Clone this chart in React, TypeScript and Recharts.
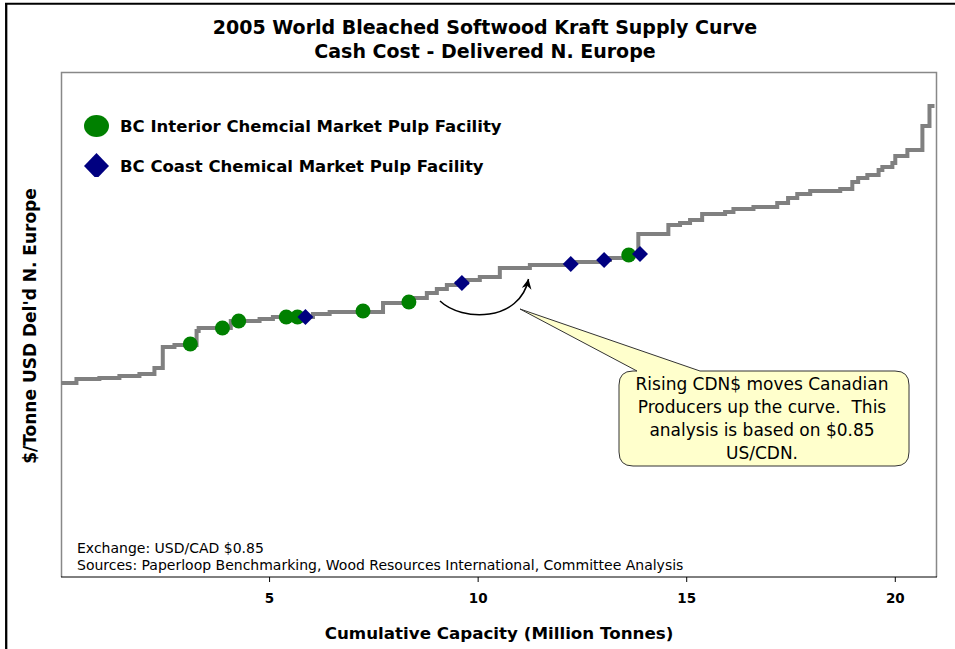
import {
  ComposedChart,
  Legend,
  Line,
  Scatter,
  XAxis,
  YAxis,
} from "recharts";

// Cumulative capacity (million tonnes) where each cost step begins
const stepCapacity = [
  0, 0.37, 0.92, 1.4, 1.88, 2.24, 2.44, 2.72, 3.25, 3.3, 4.07, 4.76, 5.08, 6.04, 6.44, 7.72,
  8.44, 8.77, 9.01, 9.25, 9.49, 9.73, 10.04, 10.52, 11.24, 12.28, 12.92, 13.16, 13.57, 13.84,
  14.56, 14.84, 15.08, 15.37, 15.92, 16.12, 16.6, 17.17, 17.43, 17.65, 17.96, 18.68, 18.97,
  19.11, 19.33, 19.6, 19.69, 19.93, 20.0, 20.29, 20.65, 20.82, 20.94,
];
// Delivered cash cost, $/tonne
const stepCost = [
  394, 398, 399, 401, 403, 409, 430, 432, 446, 449, 456, 458, 460, 463, 465, 474,
  479, 484, 488, 492, 494, 497, 500, 509, 512, 515, 517, 519, 522, 543,
  552, 554, 557, 563, 565, 568, 570, 574, 579, 583, 586, 588, 595,
  599, 602, 607, 610, 614, 621, 627, 651, 671, 671,
];

const interiorCapacity = [3.1, 3.87, 4.26, 5.4, 5.67, 7.24, 8.34, 13.61];
const interiorCost = [433, 449, 456, 460, 460, 466, 475, 522];

const coastCapacity = [5.86, 9.61, 12.22, 13.02, 13.88];
const coastCost = [460, 494, 513, 517, 523];

const xTicks = [5, 10, 15, 20];

const titleLines = ["2005 World Bleached Softwood Kraft Supply Curve", "Cash Cost - Delivered N. Europe"];
const noteLines = [
  "Exchange: USD/CAD $0.85",
  "Sources: Paperloop Benchmarking, Wood Resources International, Committee Analysis",
];
const calloutLines = [
  "Rising CDN$ moves Canadian",
  "Producers up the curve.  This",
  "analysis is based on $0.85",
  "US/CDN.",
];

const curve = stepCapacity.map((cap, i) => ({ cap, cost: stepCost[i] }));
const interior = interiorCapacity.map((cap, i) => ({ cap, cost: interiorCost[i] }));
const coast = coastCapacity.map((cap, i) => ({ cap, cost: coastCost[i] }));

const FONT = "'DejaVu Sans', Verdana, sans-serif";
const GREEN = "#008000";
const NAVY = "#000080";

const Dot = (props: any) => <circle cx={props.cx} cy={props.cy} r={7.5} fill={GREEN} />;

const Diamond = (props: any) => {
  const { cx, cy } = props;
  const d = 8;
  return <polygon points={`${cx},${cy - d} ${cx + d},${cy} ${cx},${cy + d} ${cx - d},${cy}`} fill={NAVY} />;
};

// circles (interior mills) listed above diamonds (coast mills)
const legendRank: Record<string, number> = { circle: 0, diamond: 1 };

function LegendBox({ payload }: any) {
  const items = (payload || [])
    .filter((p: any) => p.type !== "none")
    .sort((a: any, b: any) => (legendRank[a.type] ?? 9) - (legendRank[b.type] ?? 9));
  return (
    <svg width={440} height={75} style={{ display: "block" }}>
      {items.map((p: any, i: number) => {
        const cy = 24 + i * 40;
        return (
          <g key={p.value}>
            {p.type === "diamond" ? (
              <polygon points={`12.5,${cy - 13} 25,${cy} 12.5,${cy + 13} 0,${cy}`} fill={p.color} />
            ) : (
              <ellipse cx={12.5} cy={cy} rx={12.5} ry={11} fill={p.color} />
            )}
            <text x={36} y={cy + 6} fontFamily={FONT} fontSize={16.5} fontWeight="bold" fill="#000">
              {p.value}
            </text>
          </g>
        );
      })}
    </svg>
  );
}

export default function App() {
  return (
    <div
      style={{
        position: "absolute",
        left: 0,
        top: 0,
        width: 955,
        height: 649,
        background: "#fff",
        overflow: "hidden",
        fontFamily: FONT,
      }}
    >
      {/* page border, plot frame and static text */}
      <svg width={955} height={649} style={{ position: "absolute", left: 0, top: 0 }}>
        <line x1={6.2} y1={3} x2={6.2} y2={649} stroke="#000" strokeWidth={2.3} />
        <line x1={5} y1={3.7} x2={955} y2={3.7} stroke="#000" strokeWidth={2} />
        <path d="M61.5 577 V72.5 H936.5 V577" fill="none" stroke="#888" strokeWidth={1.5} />
        {titleLines.map((t, i) => (
          <text key={t} x={485} y={34 + i * 24} textAnchor="middle" fontSize={19} fontWeight="bold" fontFamily={FONT}>
            {t}
          </text>
        ))}
        <text x={499} y={639} textAnchor="middle" fontSize={16.7} fontWeight="bold" fontFamily={FONT}>
          Cumulative Capacity (Million Tonnes)
        </text>
        <text
          x={36}
          y={326}
          textAnchor="middle"
          fontSize={17}
          fontWeight="bold"
          fontFamily={FONT}
          transform="rotate(-90 36 326)"
        >
          $/Tonne USD Del'd N. Europe
        </text>
        {noteLines.map((t, i) => (
          <text key={t} x={77} y={553 + i * 17} fontSize={14} fontFamily={FONT} fill="#000">
            {t}
          </text>
        ))}
      </svg>

      <div style={{ position: "absolute", left: 0, top: 0 }}>
        <ComposedChart width={955} height={649} margin={{ top: 72, right: 18, left: 61, bottom: 42 }}>
          <XAxis
            type="number"
            dataKey="cap"
            domain={[0, 21]}
            ticks={xTicks}
            allowDataOverflow
            height={30}
            axisLine={{ stroke: "#000", strokeWidth: 1 }}
            tickLine={{ stroke: "#000" }}
            tickSize={5}
            tickMargin={11}
            tick={{ fontSize: 13.5, fontWeight: "bold", fill: "#000", fontFamily: FONT }}
          />
          <YAxis type="number" dataKey="cost" domain={[200, 705]} hide width={0} allowDataOverflow />
          <Legend
            layout="vertical"
            align="center"
            verticalAlign="middle"
            content={<LegendBox />}
            wrapperStyle={{ left: 84, top: 102, width: 440, height: 75, overflow: "hidden" }}
          />
          <Line
            data={curve}
            dataKey="cost"
            type="stepAfter"
            stroke="#808080"
            strokeWidth={4}
            dot={false}
            activeDot={false}
            legendType="none"
            isAnimationActive={false}
          />
          <Scatter
            name="BC Interior Chemcial Market Pulp Facility"
            data={interior}
            dataKey="cost"
            fill={GREEN}
            legendType="circle"
            shape={Dot}
            isAnimationActive={false}
          />
          <Scatter
            name="BC Coast Chemical Market Pulp Facility"
            data={coast}
            dataKey="cost"
            fill={NAVY}
            legendType="diamond"
            shape={Diamond}
            isAnimationActive={false}
          />
        </ComposedChart>
      </div>

      {/* callout and curved arrow */}
      <svg width={955} height={649} style={{ position: "absolute", left: 0, top: 0, pointerEvents: "none" }}>
        <defs>
          <marker id="head" markerUnits="userSpaceOnUse" markerWidth={12} markerHeight={12} refX={10} refY={5} orient="auto">
            <path d="M0,0 L10,5 L0,10 L3,5 Z" fill="#000" />
          </marker>
        </defs>
        <path d="M440 301 C462 322 520 322 528.5 279" fill="none" stroke="#000" strokeWidth={1.5} markerEnd="url(#head)" />
        <path
          d="M633 371 L637 371 L520 309 L700 371 L895 371 Q909 371 909 385 L909 452 Q909 466 895 466 L633 466 Q619 466 619 452 L619 385 Q619 371 633 371 Z"
          fill="#FFFFCC"
          stroke="#333"
          strokeWidth={1}
        />
        {calloutLines.map((t, i) => (
          <text
            key={t}
            x={762}
            y={390 + i * 23}
            textAnchor="middle"
            fontSize={17}
            fontFamily={FONT}
            fill="#000"
            style={{ whiteSpace: "pre" }}
          >
            {t}
          </text>
        ))}
      </svg>
    </div>
  );
}
